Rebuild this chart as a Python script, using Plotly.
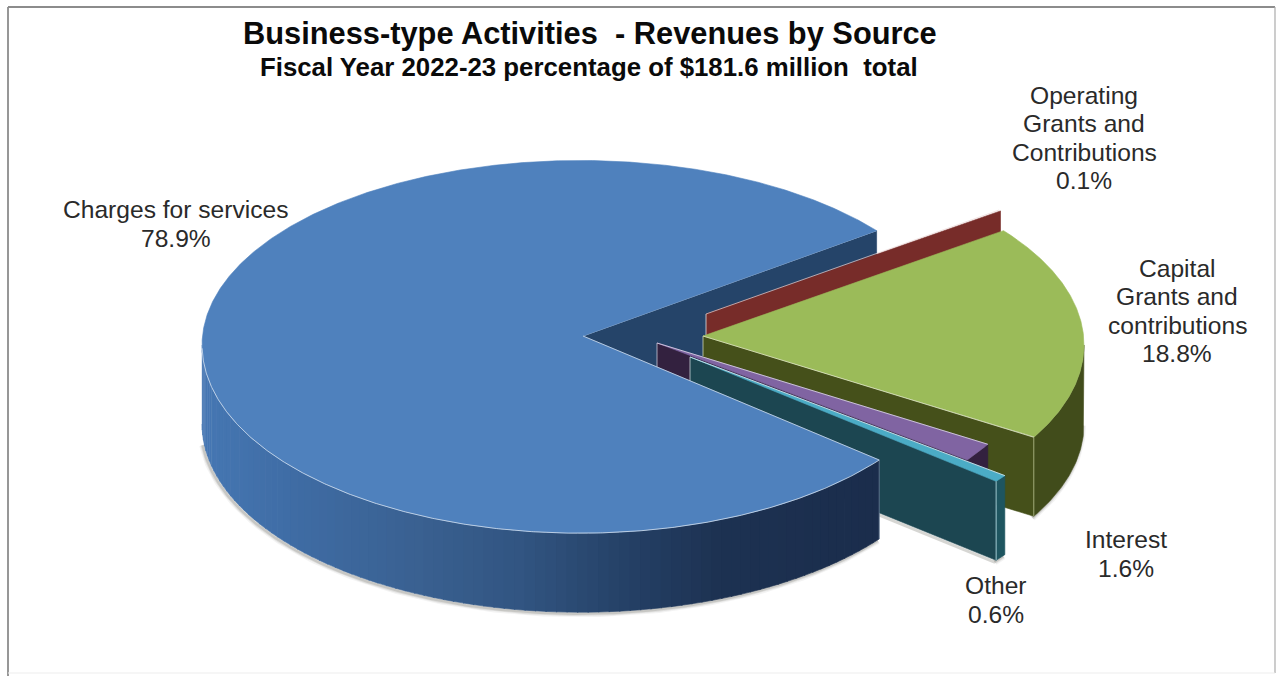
import numpy as np
import plotly.graph_objects as go

# Revenue shares, in the order they run around the pie
categories = ["Charges for services", "Other", "Interest",
              "Capital Grants and contributions", "Operating Grants and Contributions"]
shares = [78.9, 0.6, 1.6, 18.8, 0.1]
label_lines = [["Charges for services", "78.9%"],
               ["Other", "0.6%"],
               ["Interest", "1.6%"],
               ["Capital", "Grants and", "contributions", "18.8%"],
               ["Operating", "Grants and", "Contributions", "0.1%"]]

# Pie geometry, in page pixels
RX, RY = 381.0, 186.0
DEPTH = 79.0
HUB_DROP = 9.0          # perspective: the hub sits above the ellipse centre
START_DEG = 38.3
hub_x = [583, 690, 657, 703, 706]
hub_y = [336, 357, 343, 336, 314]
centre_shift = [-3, 0, 0, 0, 0]
radius_scale = [0.992, 1.015, 1.0, 1.0, 0.98]
near_stretch = [1.02, 1.0, 1.0, 1.0, 1.0]   # the near half of the rim looks slightly larger

top_colors = ["#4F81BD", "#4BACC6", "#8064A2", "#9BBB59", "#C0504D"]
cut_colors = ["#254469", "#1C4651", "#33213F", "#45501A", "#772C29"]
outer_colors = ["#24426A", "#1E5560", "#33213F", "#414C1B", "#772C29"]
label_x = [176, 996, 1126, 1177, 1084]
label_y = [224, 600, 554, 311, 138]
LINE_GAP = 28.3
EDGE = "rgba(226,234,244,0.72)"

# Start and end angle of every slice, running counter-clockwise
spans = np.array(shares) / sum(shares) * 360.0
ends = START_DEG + np.cumsum(spans)
starts = ends - spans


def rim(i, t_deg, drop=0.0):
    t = np.radians(np.asarray(t_deg, dtype=float))
    s = radius_scale[i]
    sine = np.sin(t)
    stretch = np.where(sine < 0, near_stretch[i], 1.0)
    return (hub_x[i] + centre_shift[i] + s * RX * np.cos(t),
            hub_y[i] + HUB_DROP - s * RY * sine * stretch + drop)


def arc(i, t0, t1, drop=0.0, step=0.5):
    n = max(2, int(abs(t1 - t0) / step) + 1)
    return rim(i, np.linspace(t0, t1, n), drop)


fig = go.Figure()


def poly(xs, ys, color):
    fig.add_trace(go.Scatter(x=list(xs), y=list(ys), mode="lines", fill="toself",
                             fillcolor=color, line=dict(color=color, width=0.6),
                             hoverinfo="skip", showlegend=False))


def stroke(xs, ys, color=EDGE, width=1.0):
    fig.add_trace(go.Scatter(x=list(xs), y=list(ys), mode="lines",
                             line=dict(color=color, width=width),
                             hoverinfo="skip", showlegend=False))


def top_face(i):
    ax, ay = arc(i, starts[i], ends[i], step=0.2)
    poly([hub_x[i], *ax, hub_x[i]], [hub_y[i], *ay, hub_y[i]], top_colors[i])


def start_wall(i):
    # Cut face along the slice's first edge
    x, y = rim(i, starts[i])
    poly([hub_x[i], x, x, hub_x[i]],
         [hub_y[i], y, y + DEPTH, hub_y[i] + DEPTH], cut_colors[i])


def outer_wall(i, t0, t1, color):
    ux, uy = arc(i, t0, t1)
    lx, ly = arc(i, t1, t0, DEPTH)
    poly([*ux, *lx], [*uy, *ly], color)


def soft_shadow(i, t0, t1):
    sx, sy = arc(i, t0, t1, DEPTH)
    for w, a in ((7, 0.07), (4.5, 0.12), (2.5, 0.18)):
        stroke(sx - 1.5, sy + 1.5, f"rgba(90,90,80,{a})", w)


# Blue slice's side wall is shaded from left to right
SHADE_X = [204, 300, 420, 520, 620, 720, 884]
SHADE_R = [70, 63, 58, 50, 38, 29, 27]
SHADE_G = [119, 108, 97, 85, 66, 50, 45]
SHADE_B = [179, 164, 145, 130, 104, 82, 76]


def shaded_blue_wall():
    a0, a1 = 180.0, ends[0]
    edges = np.linspace(a0, a1, 90)
    for t0, t1 in zip(edges[:-1], edges[1:]):
        mid, _ = rim(0, (t0 + t1) / 2)
        c = [int(np.interp(mid, SHADE_X, ch)) for ch in (SHADE_R, SHADE_G, SHADE_B)]
        outer_wall(0, t0, min(t1 + 0.15, a1), f"rgb({c[0]},{c[1]},{c[2]})")


BLUE, OTHER, INTEREST, CAPITAL, OPERATING = range(5)

# Painted back to front
# Blue's far cut face
x0, y0 = rim(BLUE, starts[BLUE])
poly([hub_x[BLUE], x0, x0, hub_x[BLUE]],
     [hub_y[BLUE], y0, y0 + DEPTH, hub_y[BLUE] + DEPTH], cut_colors[BLUE])
stroke([hub_x[BLUE], x0], [hub_y[BLUE], y0])

# Operating grants: a thin sliver with its cut face
start_wall(OPERATING)
xr, yr = rim(OPERATING, ends[OPERATING])
stroke([hub_x[OPERATING], xr], [hub_y[OPERATING], yr], "rgba(235,215,215,0.7)")
stroke([hub_x[OPERATING]] * 2, [hub_y[OPERATING], hub_y[OPERATING] + 22], "rgba(225,225,225,0.8)")

# Capital grants: the visible part of its rim ends at the right-hand extreme
soft_shadow(CAPITAL, starts[CAPITAL], 360)
outer_wall(CAPITAL, starts[CAPITAL], 360, outer_colors[CAPITAL])
start_wall(CAPITAL)
top_face(CAPITAL)
xa, ya = rim(CAPITAL, starts[CAPITAL])
stroke([hub_x[CAPITAL], xa], [hub_y[CAPITAL], ya], "rgba(225,232,200,0.8)")
stroke([xa, xa], [ya, ya + DEPTH], "rgba(190,200,150,0.7)")
stroke([hub_x[CAPITAL]] * 2, [hub_y[CAPITAL], hub_y[CAPITAL] + 20], "rgba(205,212,180,0.8)")

# Interest
outer_wall(INTEREST, starts[INTEREST], ends[INTEREST], outer_colors[INTEREST])
start_wall(INTEREST)
top_face(INTEREST)
xi0, yi0 = rim(INTEREST, ends[INTEREST])
stroke([hub_x[INTEREST], xi0], [hub_y[INTEREST], yi0], "rgba(225,220,235,0.8)")
stroke([hub_x[INTEREST]] * 2, [hub_y[INTEREST], hub_y[INTEREST] + 26], "rgba(200,200,215,0.8)")

# Other
soft_shadow(OTHER, starts[OTHER], ends[OTHER])
xo0, yo0 = rim(OTHER, starts[OTHER])
xo1, yo1 = rim(OTHER, ends[OTHER])
stroke([hub_x[OTHER], xo0 - 1], [hub_y[OTHER] + DEPTH + 2, yo0 + DEPTH + 2],
       "rgba(90,90,80,0.25)", 3)
start_wall(OTHER)
outer_wall(OTHER, starts[OTHER], ends[OTHER], outer_colors[OTHER])
top_face(OTHER)
stroke([hub_x[OTHER], xo1], [hub_y[OTHER], yo1], "rgba(225,238,242,0.8)")
stroke([xo0, xo0], [yo0, yo0 + DEPTH], "rgba(150,190,200,0.9)", 1.2)
stroke([hub_x[OTHER]] * 2, [hub_y[OTHER], hub_y[OTHER] + 26], "rgba(200,210,215,0.8)")

# Charges for services: the large slice sits in front
soft_shadow(BLUE, 186, ends[BLUE])
shaded_blue_wall()
top_face(BLUE)
ex, ey = arc(BLUE, 181, ends[BLUE], step=0.3)
stroke(ex, ey)
xb, yb = rim(BLUE, ends[BLUE])
stroke([hub_x[BLUE], xb], [hub_y[BLUE], yb])
stroke([xb, xb], [yb, yb + DEPTH], "rgba(150,170,195,0.55)")

# Slice labels, one annotation per line so the leading stays tight
for lines, x, y in zip(label_lines, label_x, label_y):
    for k, line in enumerate(lines):
        fig.add_annotation(x=x, y=y + (k - (len(lines) - 1) / 2) * LINE_GAP, text=line,
                           showarrow=False, xanchor="center", yanchor="middle",
                           font=dict(family="Liberation Sans", size=24.6, color="#2a2a2a"))

# Title block
fig.add_annotation(x=589.5, y=33, text="Business-type Activities  - Revenues by Source",
                   showarrow=False, xanchor="center", yanchor="middle",
                   font=dict(family="Liberation Sans", size=30.8, color="#0a0a0a", weight="bold"))
fig.add_annotation(x=588.5, y=67, text="Fiscal Year 2022-23 percentage of $181.6 million  total",
                   showarrow=False, xanchor="center", yanchor="middle",
                   font=dict(family="Liberation Sans", size=25.8, color="#0a0a0a", weight="bold"))

# Chart frame: strong on the top and left, fading on the right and bottom
fig.add_shape(type="line", x0=8, y0=7, x1=8, y1=676, line=dict(color="#8c8c8c", width=1.8))
fig.add_shape(type="line", x0=8, y0=7, x1=1275, y1=7, line=dict(color="#8c8c8c", width=1.8))
fig.add_shape(type="line", x0=1275, y0=7, x1=1275, y1=673, line=dict(color="#ababab", width=1.2))
fig.add_shape(type="line", x0=8, y0=673, x1=1275, y1=673, line=dict(color="#ededed", width=1))

fig.update_layout(width=1276, height=676, margin=dict(l=0, r=0, t=0, b=0),
                  paper_bgcolor="white", plot_bgcolor="white", showlegend=False,
                  xaxis=dict(range=[0, 1276], visible=False, fixedrange=True),
                  yaxis=dict(range=[676, 0], visible=False, fixedrange=True))
fig.write_html("out.html", config=dict(displayModeBar=False))
